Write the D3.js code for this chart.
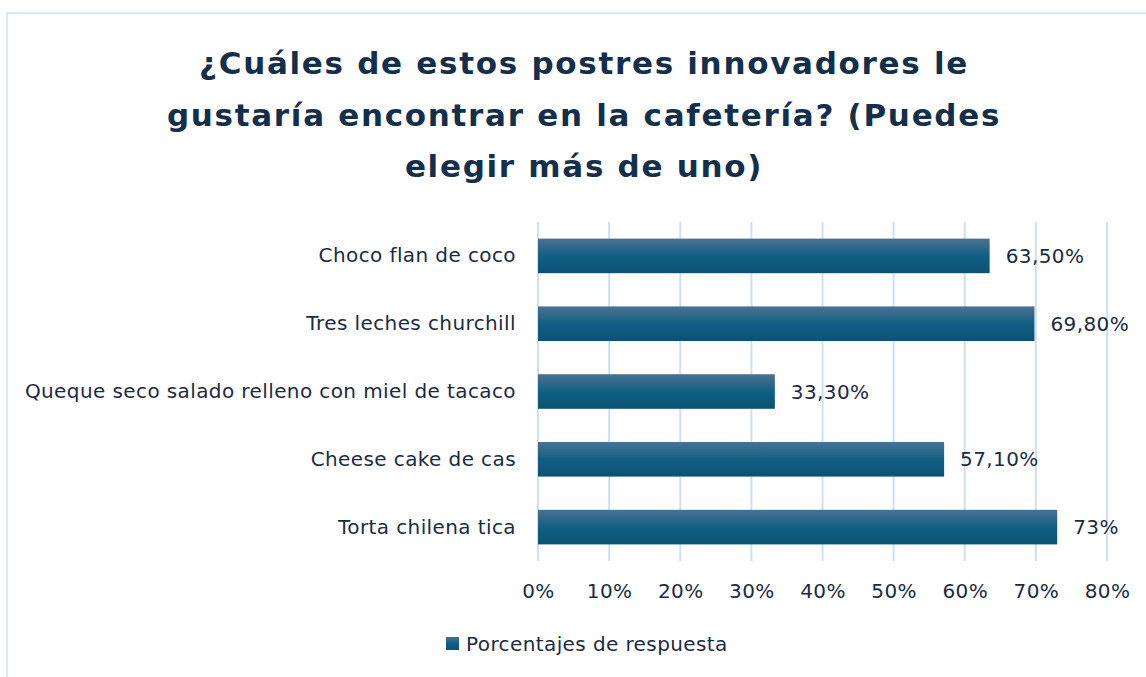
<!DOCTYPE html>
<html>
<head>
<meta charset="utf-8">
<script src="https://cdn.jsdelivr.net/npm/d3@7"></script>
<style>
  html, body { margin: 0; padding: 0; background: #fff; }
  svg { display: block; font-family: "DejaVu Sans", sans-serif; }
</style>
</head>
<body>
<svg id="chart" width="1146" height="677"></svg>
<script>
const titleLines = [
    "¿Cuáles de estos postres innovadores le",
    "gustaría encontrar en la cafetería? (Puedes",
    "elegir más de uno)"
];
const categories = [
    "Choco flan de coco",
    "Tres leches churchill",
    "Queque seco salado relleno con miel de tacaco",
    "Cheese cake de cas",
    "Torta chilena tica"
];
const values = [63.5, 69.8, 33.3, 57.1, 73];
const valueLabels = ["63,50%", "69,80%", "33,30%", "57,10%", "73%"];
const xTicks = [0, 10, 20, 30, 40, 50, 60, 70, 80];
const seriesName = "Porcentajes de respuesta";

const svg = d3.select("#chart");
const W = 1146, H = 677;
const textColor = "#1c2b3f";
const gridColor = "#cfe0f3";
const fontBody = "\"DejaVu Sans\", sans-serif";
const bodySize = 20;
const bodySpacing = 0.4;

// outer frame
svg.append("rect")
    .attr("x", 7).attr("y", 13)
    .attr("width", W + 10).attr("height", H + 10)
    .attr("fill", "#fff")
    .attr("stroke", gridColor)
    .attr("stroke-width", 1.5);

const plot = { left: 538, right: 1107, top: 222, bottom: 561 };

const x = d3.scaleLinear().domain([0, 80]).range([plot.left, plot.right]);
const y = d3.scaleBand().domain(categories).range([plot.top, plot.bottom]).paddingInner(0.49).paddingOuter(0.245);

const defs = svg.append("defs");
const grad = defs.append("linearGradient").attr("id", "barGrad")
    .attr("x1", 0).attr("y1", 0).attr("x2", 0).attr("y2", 1);
grad.append("stop").attr("offset", "0%").attr("stop-color", "#4a7291");
grad.append("stop").attr("offset", "50%").attr("stop-color", "#115f84");
grad.append("stop").attr("offset", "100%").attr("stop-color", "#0a5274");

// title
svg.append("g").selectAll("text")
    .data(titleLines)
    .join("text")
    .attr("x", 584)
    .attr("y", (d, i) => 74 + i * 51.5)
    .attr("text-anchor", "middle")
    .attr("font-size", 31)
    .attr("font-weight", "bold")
    .attr("letter-spacing", 1.7)
    .attr("fill", "#132f4b")
    .text(d => d);

// gridlines
svg.append("g").selectAll("line")
    .data(xTicks)
    .join("line")
    .attr("x1", d => x(d)).attr("x2", d => x(d))
    .attr("y1", plot.top).attr("y2", plot.bottom)
    .attr("stroke", gridColor)
    .attr("stroke-width", 2);

// x axis labels
const xAxis = d3.axisBottom(x)
    .tickValues(xTicks)
    .tickFormat(d => d + "%")
    .tickSize(0)
    .tickPadding(23);
svg.append("g")
    .attr("transform", `translate(0, ${plot.bottom})`)
    .call(xAxis)
    .call(g => g.select(".domain").remove())
    .call(g => g.selectAll(".tick text")
        .attr("font-size", bodySize)
        .attr("font-family", fontBody)
        .attr("letter-spacing", bodySpacing)
        .attr("fill", textColor));

// y axis labels
const yAxis = d3.axisLeft(y).tickSize(0).tickPadding(22);
svg.append("g")
    .attr("transform", `translate(${plot.left}, 0)`)
    .call(yAxis)
    .call(g => g.select(".domain").remove())
    .call(g => g.selectAll(".tick text")
        .attr("font-size", bodySize)
        .attr("font-family", fontBody)
        .attr("letter-spacing", bodySpacing)
        .attr("fill", textColor));

// bars
svg.append("g").selectAll("rect")
    .data(categories)
    .join("rect")
    .attr("x", x(0))
    .attr("y", d => y(d))
    .attr("width", (d, i) => x(values[i]) - x(0))
    .attr("height", y.bandwidth())
    .attr("fill", "url(#barGrad)");

// value labels
svg.append("g").selectAll("text")
    .data(categories)
    .join("text")
    .attr("x", (d, i) => x(values[i]) + 16)
    .attr("y", d => y(d) + y.bandwidth() / 2)
    .attr("dy", "0.35em")
    .attr("font-size", bodySize)
    .attr("letter-spacing", bodySpacing)
    .attr("fill", textColor)
    .text((d, i) => valueLabels[i]);

// legend
const legend = svg.append("g").attr("transform", "translate(446, 637)");
legend.append("rect")
    .attr("width", 13).attr("height", 13)
    .attr("fill", "url(#barGrad)");
legend.append("text")
    .attr("x", 20).attr("y", 6.5)
    .attr("dy", "0.35em")
    .attr("font-size", bodySize)
    .attr("letter-spacing", bodySpacing)
    .attr("fill", textColor)
    .text(seriesName);
</script>
</body>
</html>
